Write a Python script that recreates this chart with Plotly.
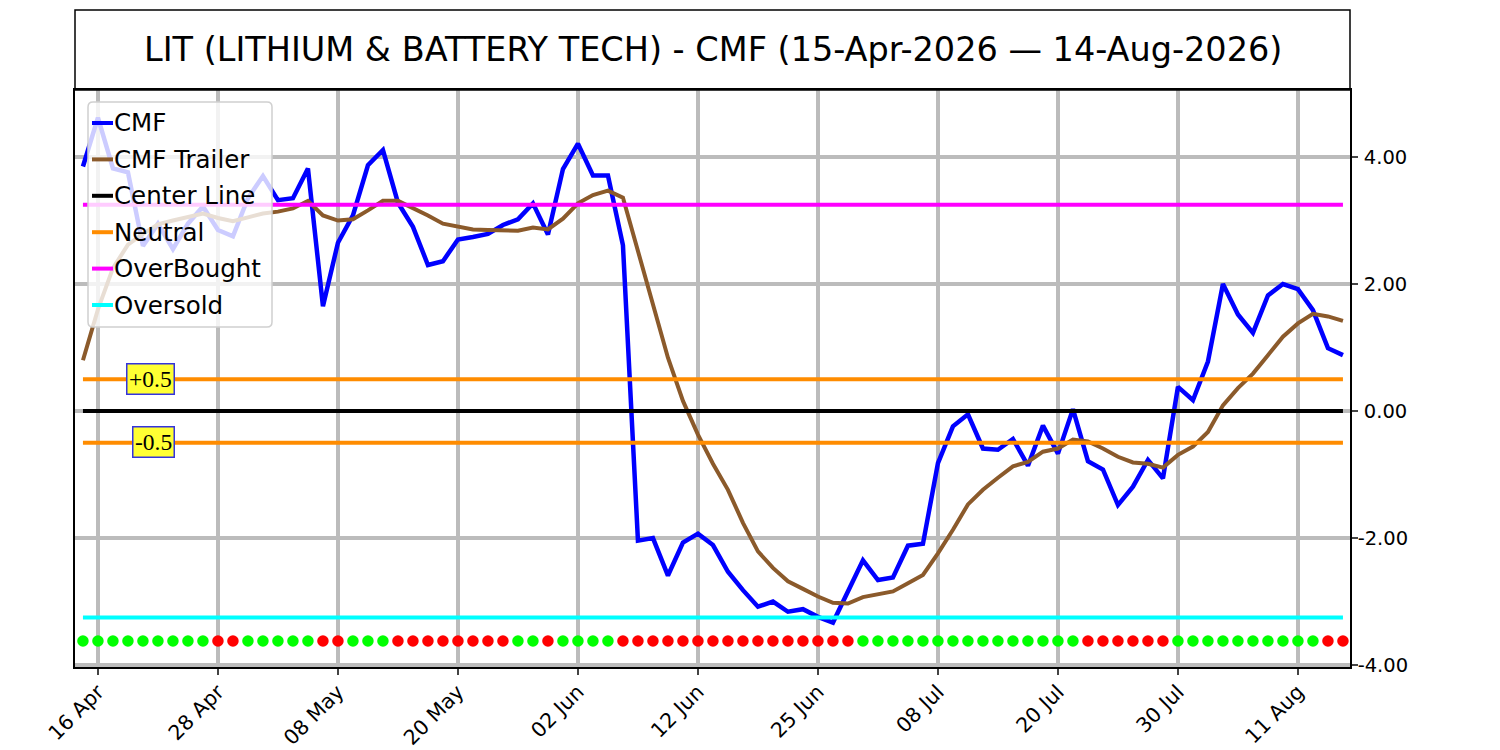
import plotly.graph_objects as go

# CMF and its trailer, one value per trading day 15-Apr-2026 .. 14-Aug-2026
cmf = [3.85, 4.62, 3.82, 3.76, 2.60, 2.95, 2.55, 2.95, 3.22, 2.85,
       2.75, 3.35, 3.70, 3.32, 3.35, 3.82, 1.65, 2.65, 3.08, 3.87,
       4.11, 3.28, 2.90, 2.30, 2.36, 2.70, 2.74, 2.79, 2.93, 3.02,
       3.27, 2.78, 3.81, 4.21, 3.71, 3.71, 2.61, -2.04, -2.00, -2.59,
       -2.07, -1.93, -2.11, -2.53, -2.82, -3.08, -3.00, -3.16, -3.12, -3.24,
       -3.33, -2.84, -2.35, -2.66, -2.62, -2.12, -2.09, -0.82, -0.24, -0.05,
       -0.59, -0.61, -0.44, -0.86, -0.23, -0.67, 0.03, -0.79, -0.92, -1.48,
       -1.19, -0.77, -1.06, 0.38, 0.17, 0.78, 2.00, 1.52, 1.23, 1.82,
       2.00, 1.92, 1.59, 0.99, 0.88]

cmf_trailer = [0.80, 1.60, 2.25, 2.62, 2.79, 2.94, 3.00, 3.06, 3.11, 3.04,
               2.99, 3.05, 3.11, 3.14, 3.19, 3.31, 3.08, 3.00, 3.02, 3.16,
               3.31, 3.31, 3.20, 3.08, 2.95, 2.90, 2.86, 2.85, 2.84, 2.84,
               2.89, 2.86, 3.03, 3.27, 3.40, 3.47, 3.36, 2.53, 1.68, 0.84,
               0.16, -0.37, -0.83, -1.24, -1.76, -2.21, -2.47, -2.68, -2.80, -2.92,
               -3.02, -3.03, -2.93, -2.89, -2.84, -2.71, -2.58, -2.24, -1.87, -1.47,
               -1.24, -1.05, -0.87, -0.80, -0.64, -0.59, -0.45, -0.48, -0.59, -0.72,
               -0.81, -0.83, -0.89, -0.69, -0.56, -0.33, 0.09, 0.36, 0.59, 0.88,
               1.17, 1.38, 1.53, 1.49, 1.42]

# signal dots along the bottom (G = green, R = red)
signal = list("GGGGGGGGGRRGGGGGRRGGGRRRRRRRRGGRGGGG"
              "RRRRRRRRRRRRRRRRGGGGGGGGGGGGGGGRRRRRRGGGGGGGGGGRR")

tick_pos = [1, 9, 17, 25, 33, 41, 49, 57, 65, 73, 81]
tick_text = ["16 Apr", "28 Apr", "08 May", "20 May", "02 Jun", "12 Jun",
             "25 Jun", "08 Jul", "20 Jul", "30 Jul", "11 Aug"]
ytick_vals = [-4, -2, 0, 2, 4]
ytick_text = ["-4.00", "-2.00", "\u00a00.00", "\u00a02.00", "\u00a04.00"]

center_level = 0.0
neutral_level = 0.5
overbought_level = 3.25
oversold_level = -3.25
dot_level = -3.62

title = "LIT (LITHIUM & BATTERY TECH) - CMF (15-Apr-2026 \u2014 14-Aug-2026)"

n = len(cmf)
x = list(range(n))
FONT = "DejaVu Sans"

# plot area in pixels
L, R, T, B = 75, 1350, 90, 667
W, H = 1500, 750
def px(v):
    return (v - L) / (R - L)
def py(v):
    return (B - v) / (B - T)

fig = go.Figure()
legend_items = []

def add_line(y, color, name, width=4, legend=True):
    fig.add_trace(go.Scatter(x=x, y=y, mode="lines", name=name,
                             line=dict(color=color, width=width),
                             showlegend=False, hoverinfo="skip"))
    if legend:
        legend_items.append((name, color))

add_line(cmf, "#0000ff", "CMF", width=4.5)
add_line(cmf_trailer, "#8b5a2b", "CMF Trailer", width=4)
add_line([center_level] * n, "#000000", "Center Line")
add_line([neutral_level] * n, "#ff8c00", "Neutral")
add_line([-neutral_level] * n, "#ff8c00", "Neutral", legend=False)
add_line([overbought_level] * n, "#ff00ff", "OverBought")
add_line([oversold_level] * n, "#00ffff", "Oversold")

fig.add_trace(go.Scatter(x=x, y=[dot_level] * n, mode="markers", showlegend=False,
                         marker=dict(size=11.5, line=dict(width=0),
                                     color=["#00ff00" if s == "G" else "#ff0000" for s in signal])))

# +0.5 / -0.5 labels
for txt, xv, yv in [("+0.5", 4.47, neutral_level), ("-0.5", 4.67, -neutral_level + 0.02)]:
    fig.add_annotation(x=xv, y=yv, text=txt, showarrow=False,
                       font=dict(family="Liberation Serif", size=23.5, color="black"),
                       bgcolor="#ffff33", bordercolor="#3333dd", borderwidth=1.5, borderpad=1.5)

# title box above the plot
fig.add_shape(type="rect", xref="paper", yref="paper", x0=0, x1=1, y0=1, y1=py(10),
              line=dict(color="black", width=1.5))
fig.add_annotation(xref="paper", yref="paper", x=0.5, y=py(50), text=title,
                   showarrow=False, yanchor="middle",
                   font=dict(family=FONT, size=33.5, color="black"))

# legend box (matplotlib style: small handles, rounded frame)
bx0, bx1, by0, by1, r = 88, 272, 102, 327, 5
rx, ry = r / (R - L), r / (B - T)
X0, X1, Y0, Y1 = px(bx0), px(bx1), py(by1), py(by0)
path = (f"M{X0 + rx},{Y0} L{X1 - rx},{Y0} Q{X1},{Y0} {X1},{Y0 + ry} "
        f"L{X1},{Y1 - ry} Q{X1},{Y1} {X1 - rx},{Y1} L{X0 + rx},{Y1} "
        f"Q{X0},{Y1} {X0},{Y1 - ry} L{X0},{Y0 + ry} Q{X0},{Y0} {X0 + rx},{Y0} Z")
fig.add_shape(type="path", path=path, xref="paper", yref="paper", layer="above",
              fillcolor="rgba(255,255,255,0.8)", line=dict(color="#d0d0d0", width=1.5))
for k, (name, color) in enumerate(legend_items):
    yc = py(123 + 36.4 * k)
    fig.add_shape(type="line", xref="paper", yref="paper", layer="above",
                  x0=px(92), x1=px(113), y0=yc, y1=yc, line=dict(color=color, width=4))
    fig.add_annotation(xref="paper", yref="paper", x=px(112), y=yc, text=name,
                       showarrow=False, xanchor="left", yanchor="middle",
                       font=dict(family=FONT, size=24.5, color="black"))

fig.update_layout(
    width=W, height=H,
    margin=dict(l=L, r=W - R, t=T, b=H - B),
    plot_bgcolor="white", paper_bgcolor="white",
    font=dict(family=FONT, color="black"),
    showlegend=False,
    xaxis=dict(range=[-0.53, 84.47], tickvals=tick_pos, ticktext=tick_text,
               tickangle=-45, tickfont=dict(size=20.5), ticks="outside", ticklen=6,
               ticklabelstandoff=-3,
               tickwidth=1.5, showgrid=True, gridcolor="#bcbcbc", gridwidth=3.5,
               showline=True, linecolor="black", linewidth=1.5, mirror=True,
               zeroline=False, automargin=False),
    yaxis=dict(range=[-4.03, 5.055], side="right", tickvals=ytick_vals, ticktext=ytick_text,
               tickfont=dict(size=19.5), ticks="outside", ticklen=6, ticklabelstandoff=-4,
               tickwidth=1.5, showgrid=True, gridcolor="#bcbcbc", gridwidth=3.5,
               showline=True, linecolor="black", linewidth=1.5, mirror=True,
               zeroline=False, automargin=False),
)

# page body has an 8px default margin; drop it so the figure sits at the window corner
fig.write_html("out.html", config={"displayModeBar": False},
               post_script="document.body.style.margin='0';")
